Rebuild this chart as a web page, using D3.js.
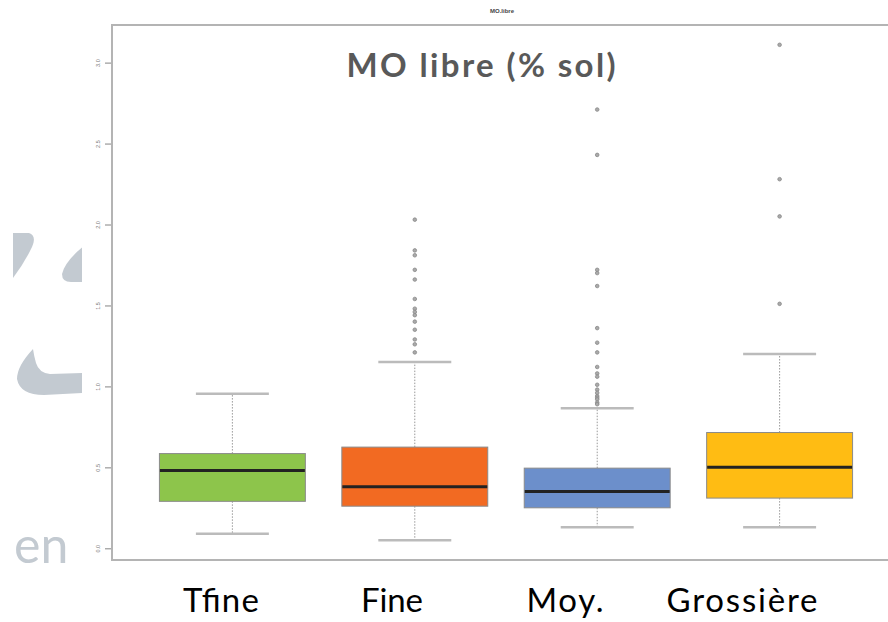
<!DOCTYPE html>
<html>
<head>
<meta charset="utf-8">
<script src="https://cdn.jsdelivr.net/npm/d3@7"></script>
<style>
  html, body { margin: 0; padding: 0; background: #fff; }
  svg { display: block; }
</style>
</head>
<body>
<svg id="chart" width="888" height="622"></svg>
<script>
// Soil texture classes and their free organic matter summaries (% of soil)
const categories = ["Tfine", "Fine", "Moy.", "Grossière"];
const boxColors = ["#8DC54B", "#F26A22", "#6C8FCB", "#FFBC13"];
const whiskerLow = [0.09, 0.05, 0.13, 0.13];
const q1 = [0.29, 0.26, 0.25, 0.31];
const medians = [0.48, 0.38, 0.35, 0.50];
const q3 = [0.585, 0.625, 0.495, 0.715];
const whiskerHigh = [0.955, 1.15, 0.865, 1.20];

// Outlying observations, one list per class
const outliersTfine = [];
const outliersFine = [2.03, 1.84, 1.81, 1.72, 1.66, 1.54, 1.48, 1.46, 1.44, 1.40, 1.35, 1.29, 1.26, 1.21];
const outliersMoy = [2.71, 2.43, 1.72, 1.70, 1.62, 1.36, 1.27, 1.21, 1.12, 1.08, 1.06, 1.01, 0.98, 0.96, 0.94, 0.93, 0.92, 0.90, 0.89];
const outliersGrossiere = [3.11, 2.28, 2.05, 1.51];
const outliers = [outliersTfine, outliersFine, outliersMoy, outliersGrossiere];

const yTicks = [0, 0.5, 1.0, 1.5, 2.0, 2.5, 3.0];
const yTickLabels = ["0.0", "0.5", "1.0", "1.5", "2.0", "2.5", "3.0"];

const svg = d3.select("#chart");

// ---- background slide ornament (logo fragment, left edge) ----
svg.append("defs").append("clipPath").attr("id", "decoClip")
  .append("rect").attr("x", 12).attr("y", 0).attr("width", 70).attr("height", 622);
const deco = svg.append("g").attr("clip-path", "url(#decoClip)");
const decoColor = "#C3CAD1";
deco.append("path").attr("fill", decoColor)
  .attr("d", "M 13 233 L 29 233 Q 37 236 32 247 Q 25 262 13 278 Z");
deco.append("path").attr("fill", decoColor)
  .attr("d", "M 84 246 L 84 282 L 71 282 Q 62 282 62 274 Q 65 261 84 246 Z");
deco.append("path").attr("fill", decoColor)
  .attr("d", "M 33 349 Q 17 366 17 379 Q 20 395 44 395 L 84 393 L 84 373 L 50 374 Q 39 373 36 363 Q 34 356 33 349 Z");
deco.append("text").attr("x", 14).attr("y", 563)
  .attr("font-family", "Lato, 'Open Sans', sans-serif")
  .attr("font-size", 50).attr("fill", decoColor)
  .text("en");

// ---- plot region ----
const allVals = [...whiskerLow, ...whiskerHigh, ...outliers.flat()];
const yMin = d3.min(allVals), yMax = d3.max(allVals);
const ext = (yMax - yMin) * 0.04;

const frame = { left: 112, right: 900, top: 25, bottom: 560 };
const x = d3.scaleLinear().domain([0.34, 4.66]).range([frame.left, frame.right]);
const y = d3.scaleLinear().domain([yMin - ext, yMax + ext]).range([frame.bottom, frame.top]);
const step = x(2) - x(1);
const boxW = step * 0.8;
const capW = boxW * 0.5;

svg.append("rect").attr("x", frame.left).attr("y", frame.top)
  .attr("width", frame.right - frame.left).attr("height", frame.bottom - frame.top)
  .attr("fill", "#fff");

// small header from the plotting device
svg.append("text").attr("x", 502).attr("y", 13)
  .attr("text-anchor", "middle")
  .attr("font-family", "Liberation Sans, Arial, sans-serif")
  .attr("font-weight", "bold").attr("font-size", 6).attr("fill", "#444")
  .text("MO.libre");

// y axis with rotated labels
const yAxis = d3.axisLeft(y).tickValues(yTicks)
  .tickFormat((d, i) => yTickLabels[i]).tickSize(7).tickPadding(4);
const gy = svg.append("g").attr("transform", `translate(${frame.left},0)`).call(yAxis);
gy.select(".domain").remove();
gy.selectAll(".tick line").attr("stroke", "#999").attr("stroke-width", 1.2);
gy.selectAll(".tick text")
  .attr("font-family", "Liberation Sans, Arial, sans-serif")
  .attr("font-size", 5.5).attr("fill", "#777")
  .attr("x", null).attr("dy", null)
  .attr("transform", "translate(-13,0) rotate(-90)")
  .attr("text-anchor", "middle").attr("dominant-baseline", "middle");

// boxes
const groups = svg.append("g").selectAll("g").data(categories).join("g");
groups.each(function (c, i) {
  const g = d3.select(this);
  const cx = x(i + 1);
  // whiskers
  g.append("line").attr("x1", cx).attr("x2", cx).attr("y1", y(q3[i])).attr("y2", y(whiskerHigh[i]))
    .attr("stroke", "#999").attr("stroke-width", 1).attr("stroke-dasharray", "1.5,1.5");
  g.append("line").attr("x1", cx).attr("x2", cx).attr("y1", y(q1[i])).attr("y2", y(whiskerLow[i]))
    .attr("stroke", "#999").attr("stroke-width", 1).attr("stroke-dasharray", "1.5,1.5");
  // caps
  [whiskerHigh[i], whiskerLow[i]].forEach(v => {
    g.append("line").attr("x1", cx - capW / 2).attr("x2", cx + capW / 2)
      .attr("y1", y(v)).attr("y2", y(v))
      .attr("stroke", "#bbb").attr("stroke-width", 2.5);
  });
  // box
  g.append("rect").attr("x", cx - boxW / 2).attr("y", y(q3[i]))
    .attr("width", boxW).attr("height", y(q1[i]) - y(q3[i]))
    .attr("fill", boxColors[i]).attr("stroke", "#8a8a8a").attr("stroke-width", 1);
  // median
  g.append("line").attr("x1", cx - boxW / 2 + 0.5).attr("x2", cx + boxW / 2 - 0.5)
    .attr("y1", y(medians[i])).attr("y2", y(medians[i]))
    .attr("stroke", "#222").attr("stroke-width", 3);
  // outliers
  g.selectAll("circle").data(outliers[i]).join("circle")
    .attr("cx", cx).attr("cy", d => y(d)).attr("r", 1.8)
    .attr("fill", "#aaa").attr("stroke", "#888").attr("stroke-width", 0.8);
});

// frame drawn over everything inside
svg.append("rect").attr("x", frame.left).attr("y", frame.top)
  .attr("width", frame.right - frame.left).attr("height", frame.bottom - frame.top)
  .attr("fill", "none").attr("stroke", "#b4b4b4").attr("stroke-width", 2);

// large slide title
svg.append("text").attr("x", 481).attr("y", 77)
  .attr("text-anchor", "middle")
  .attr("font-family", "Lato, 'Open Sans', sans-serif")
  .attr("font-weight", "bold").attr("font-size", 33).attr("fill", "#595959")
  .attr("textLength", 269).attr("lengthAdjust", "spacing")
  .text("MO libre (% sol)");

// category labels under the boxes
const labelX = [221, 392, 565, 742];
const labelW = [76, 62, 77, 151];
svg.append("g").selectAll("text").data(categories).join("text")
  .attr("x", (d, i) => labelX[i]).attr("y", 612)
  .attr("text-anchor", "middle")
  .attr("font-family", "Lato, 'Open Sans', sans-serif")
  .attr("font-size", 33).attr("fill", "#000")
  .attr("textLength", (d, i) => labelW[i]).attr("lengthAdjust", "spacing")
  .text(d => d);
</script>
</body>
</html>
